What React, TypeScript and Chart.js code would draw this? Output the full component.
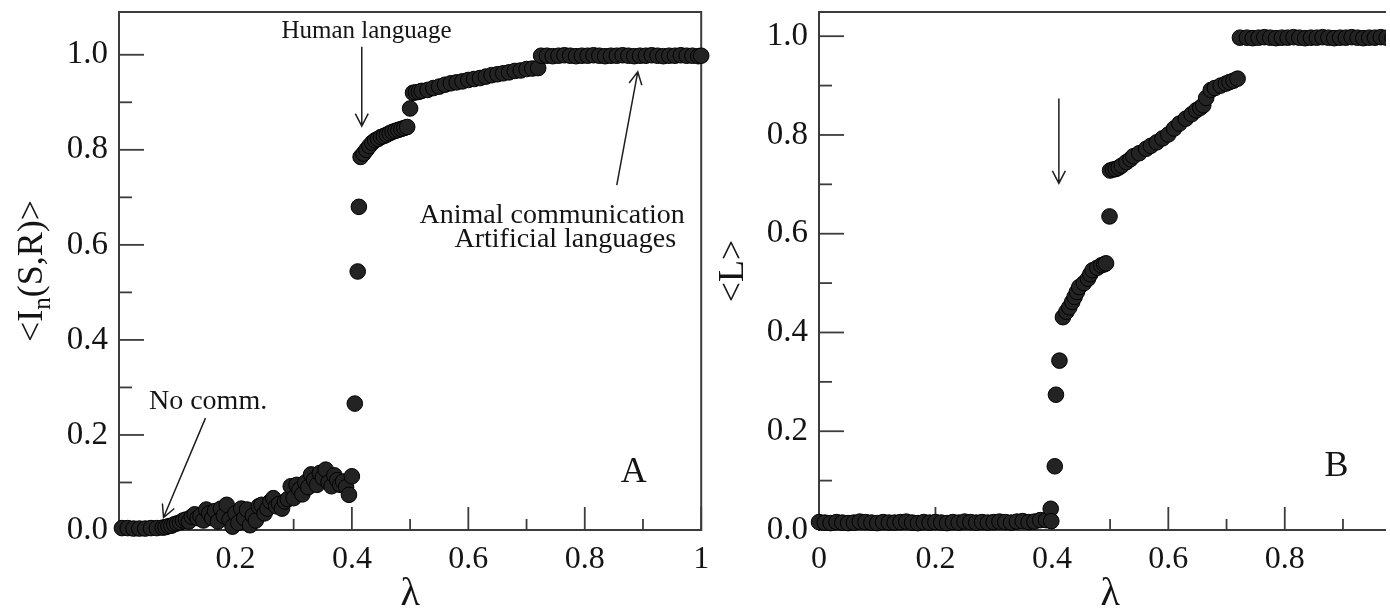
import React, { useEffect, useRef } from 'react';
import { Chart, registerables } from 'chart.js';

Chart.register(...registerables);

// ---------------- Panel A: <I_n(S,R)> versus lambda ----------------
const lambdaA = [
  0.005, 0.015, 0.025, 0.035, 0.045, 0.055, 0.065, 0.075,
  0.080, 0.085, 0.090, 0.095, 0.100, 0.105, 0.110, 0.115, 0.120, 0.125,
  0.130, 0.135, 0.140, 0.145, 0.150, 0.155, 0.160, 0.165, 0.170, 0.175,
  0.180, 0.185, 0.190, 0.195, 0.200, 0.205, 0.210, 0.215, 0.220, 0.225,
  0.230, 0.235, 0.240, 0.245, 0.250, 0.255, 0.260, 0.265, 0.270, 0.275,
  0.280, 0.285, 0.290, 0.295, 0.300, 0.305, 0.310, 0.315, 0.320, 0.325,
  0.330, 0.335, 0.340, 0.345, 0.350, 0.355, 0.360, 0.365, 0.370, 0.375,
  0.380, 0.385, 0.390, 0.395, 0.400,
  0.405, 0.410, 0.412,
  0.415, 0.420, 0.425, 0.430, 0.435, 0.440, 0.445, 0.450, 0.455, 0.460,
  0.465, 0.470, 0.475, 0.480, 0.485, 0.490, 0.495,
  0.500,
  0.505, 0.510, 0.515, 0.520, 0.530, 0.540, 0.550, 0.560, 0.570, 0.580,
  0.590, 0.600, 0.610, 0.620, 0.630, 0.640, 0.650, 0.660, 0.670, 0.680,
  0.690, 0.700, 0.710, 0.720,
  0.725, 0.735, 0.745, 0.755, 0.765, 0.775, 0.785, 0.795, 0.805, 0.815,
  0.825, 0.835, 0.845, 0.855, 0.865, 0.875, 0.885, 0.895, 0.905, 0.915,
  0.925, 0.935, 0.945, 0.955, 0.965, 0.975, 0.985, 0.995, 1.000,
];
const infoA = [
  0.004, 0.004, 0.003, 0.003, 0.003, 0.004, 0.004, 0.005,
  0.006, 0.008, 0.009, 0.012, 0.014, 0.016, 0.020, 0.022, 0.018, 0.028,
  0.033, 0.025, 0.030, 0.020, 0.043, 0.035, 0.025, 0.040, 0.018, 0.045,
  0.030, 0.053, 0.022, 0.007, 0.035, 0.015, 0.045, 0.025, 0.043, 0.010,
  0.030, 0.020, 0.050, 0.053, 0.035, 0.045, 0.060, 0.067, 0.050, 0.055,
  0.045, 0.060, 0.065, 0.092, 0.067, 0.095, 0.085, 0.075, 0.100, 0.090,
  0.117, 0.105, 0.095, 0.120, 0.110, 0.127, 0.100, 0.092, 0.115, 0.105,
  0.095, 0.102, 0.090, 0.074, 0.113,
  0.266, 0.544, 0.680,
  0.785, 0.792, 0.800, 0.808, 0.815, 0.820, 0.823, 0.827, 0.829, 0.832,
  0.835, 0.838, 0.840, 0.842, 0.844, 0.846, 0.848,
  0.887,
  0.920, 0.921, 0.922, 0.924, 0.926, 0.930, 0.933, 0.937, 0.940, 0.942,
  0.944, 0.947, 0.949, 0.951, 0.954, 0.957, 0.959, 0.961, 0.963, 0.966,
  0.967, 0.970, 0.971, 0.972,
  0.998, 0.998, 0.997, 0.998, 0.999, 0.998, 0.997, 0.998, 0.998, 0.999,
  0.998, 0.997, 0.998, 0.998, 0.999, 0.998, 0.997, 0.998, 0.998, 0.999,
  0.998, 0.997, 0.998, 0.998, 0.999, 0.998, 0.998, 0.997, 0.998,
];

// ---------------- Panel B: <L> versus lambda ----------------
const lambdaB = [
  0.00, 0.01, 0.02, 0.03, 0.04, 0.05, 0.06, 0.07, 0.08, 0.09,
  0.10, 0.11, 0.12, 0.13, 0.14, 0.15, 0.16, 0.17, 0.18, 0.19,
  0.20, 0.21, 0.22, 0.23, 0.24, 0.25, 0.26, 0.27, 0.28, 0.29,
  0.30, 0.31, 0.32, 0.33, 0.34, 0.35, 0.36, 0.37, 0.38, 0.39,
  0.398, 0.399, 0.405, 0.407, 0.413,
  0.419, 0.425, 0.430, 0.435, 0.439, 0.443, 0.447, 0.455, 0.462, 0.466,
  0.470, 0.478, 0.485, 0.490, 0.493,
  0.499,
  0.500, 0.505, 0.510, 0.515, 0.520, 0.528, 0.535, 0.540, 0.550, 0.562,
  0.570, 0.580, 0.590, 0.600, 0.610, 0.619, 0.630, 0.640, 0.648, 0.655,
  0.660, 0.665, 0.673, 0.680, 0.690, 0.699, 0.705, 0.712, 0.719,
  0.723, 0.735, 0.745, 0.755, 0.765, 0.775, 0.785, 0.795, 0.805, 0.815,
  0.825, 0.835, 0.845, 0.855, 0.865, 0.875, 0.885, 0.895, 0.905, 0.915,
  0.925, 0.935, 0.945, 0.955, 0.965, 0.975, 0.985, 0.995, 1.000,
];
const lengthB = [
  0.016, 0.015, 0.014, 0.016, 0.015, 0.014, 0.015, 0.017, 0.016, 0.015,
  0.014, 0.016, 0.015, 0.015, 0.016, 0.017, 0.015, 0.014, 0.016, 0.015,
  0.016, 0.015, 0.014, 0.016, 0.015, 0.017, 0.016, 0.015, 0.016, 0.015,
  0.016, 0.017, 0.016, 0.015, 0.017, 0.018, 0.016, 0.017, 0.020, 0.020,
  0.043, 0.018, 0.129, 0.274, 0.343,
  0.431, 0.442, 0.451, 0.462, 0.472, 0.482, 0.492, 0.500, 0.509, 0.518,
  0.526, 0.531, 0.536, 0.538, 0.540,
  0.635,
  0.728, 0.730, 0.731, 0.734, 0.738, 0.745, 0.751, 0.757, 0.763, 0.772,
  0.778, 0.785, 0.793, 0.801, 0.813, 0.823, 0.833, 0.842, 0.850, 0.855,
  0.860, 0.875, 0.891, 0.895, 0.900, 0.904, 0.907, 0.910, 0.914,
  0.997, 0.997, 0.996, 0.997, 0.998, 0.997, 0.996, 0.997, 0.997, 0.998,
  0.997, 0.996, 0.997, 0.997, 0.998, 0.997, 0.996, 0.997, 0.997, 0.998,
  0.997, 0.996, 0.997, 0.997, 0.998, 0.997, 0.997, 0.996, 0.997,
];

// ---------------- Ticks ----------------
const yMajor = [0, 0.2, 0.4, 0.6, 0.8, 1.0];
const yMajorLabels = ['0.0', '0.2', '0.4', '0.6', '0.8', '1.0'];
const yMinor = [0.1, 0.3, 0.5, 0.7, 0.9];
const xMajorA = [0.2, 0.4, 0.6, 0.8, 1.0];
const xMajorLabelsA = ['0.2', '0.4', '0.6', '0.8', '1'];
const xMajorB = [0, 0.2, 0.4, 0.6, 0.8, 1.0];
const xMajorLabelsB = ['0', '0.2', '0.4', '0.6', '0.8', '1'];
const xMinor = [0.1, 0.3, 0.5, 0.7, 0.9];

// ---------------- Annotations (data coordinates) ----------------
const notesA = [
  { text: 'Human language', x: 0.425, y: 1.035, size: 25 },
  { text: 'No comm.', x: 0.153, y: 0.2545, size: 28 },
  { text: 'Animal communication', x: 0.744, y: 0.647, size: 28 },
  { text: 'Artificial languages', x: 0.7665, y: 0.5945, size: 28 },
  { text: 'A', x: 0.884, y: 0.102, size: 36 },
];
const arrowsA = [
  { x0: 0.417, y0: 1.017, x1: 0.417, y1: 0.85 },
  { x0: 0.1485, y0: 0.2355, x1: 0.0765, y1: 0.0264 },
  { x0: 0.855, y0: 0.7255, x1: 0.891, y1: 0.964 },
];
const notesB = [{ text: 'B', x: 0.889, y: 0.11, size: 36 }];
const arrowsB = [{ x0: 0.412, y0: 0.874, x1: 0.412, y1: 0.702 }];

const FONT = '"Liberation Serif", "Times New Roman", serif';
const INK = '#141414';
const AXIS = '#3c3c3c';

const near = (a: number, b: number) => Math.abs(a - b) < 1e-9;

const frameTicks = {
  id: 'frameTicks',
  beforeDatasetsDraw(chart: any, _args: any, o: any) {
    const { ctx, chartArea: a, scales } = chart;
    const x = scales.x;
    const y = scales.y;
    ctx.save();
    ctx.strokeStyle = AXIS;
    ctx.lineWidth = 2;
    ctx.strokeRect(a.left, a.top, a.right - a.left, a.bottom - a.top);
    ctx.lineWidth = 1.8;
    const seg = (x0: number, y0: number, x1: number, y1: number) => {
      ctx.beginPath();
      ctx.moveTo(x0, y0);
      ctx.lineTo(x1, y1);
      ctx.stroke();
    };
    o.xMajor.forEach((v: number) => {
      const p = x.getPixelForValue(v);
      seg(p, a.bottom, p, a.bottom - o.xMajorLen);
    });
    o.xMinor.forEach((v: number) => {
      const p = x.getPixelForValue(v);
      seg(p, a.bottom, p, a.bottom - o.xMinorLen);
    });
    o.yMajor.forEach((v: number) => {
      const p = y.getPixelForValue(v);
      seg(a.left, p, a.left + o.yMajorLen, p);
    });
    o.yMinor.forEach((v: number) => {
      const p = y.getPixelForValue(v);
      seg(a.left, p, a.left + o.yMinorLen, p);
    });
    ctx.restore();
  },
};

const notesPlugin = {
  id: 'notes',
  afterDatasetsDraw(chart: any, _args: any, o: any) {
    const { ctx, scales } = chart;
    const x = scales.x;
    const y = scales.y;
    ctx.save();
    ctx.fillStyle = INK;
    ctx.textAlign = 'center';
    ctx.textBaseline = 'alphabetic';
    o.texts.forEach((t: any) => {
      ctx.font = `${t.size}px ${FONT}`;
      ctx.fillText(t.text, x.getPixelForValue(t.x), y.getPixelForValue(t.y));
    });
    ctx.strokeStyle = '#1e1e1e';
    ctx.lineWidth = 1.5;
    o.arrows.forEach((ar: any) => {
      const x0 = x.getPixelForValue(ar.x0);
      const y0 = y.getPixelForValue(ar.y0);
      const x1 = x.getPixelForValue(ar.x1);
      const y1 = y.getPixelForValue(ar.y1);
      const ang = Math.atan2(y1 - y0, x1 - x0);
      const head = 14;
      const spread = 0.48;
      ctx.beginPath();
      ctx.moveTo(x0, y0);
      ctx.lineTo(x1, y1);
      ctx.moveTo(x1 - head * Math.cos(ang - spread), y1 - head * Math.sin(ang - spread));
      ctx.lineTo(x1, y1);
      ctx.lineTo(x1 - head * Math.cos(ang + spread), y1 - head * Math.sin(ang + spread));
      ctx.stroke();
    });
    if (o.yTitle) {
      // rotated axis title with a subscript
      const a = chart.chartArea;
      const cy = (a.top + a.bottom) / 2;
      ctx.translate(o.yTitle.baseX, cy);
      ctx.rotate(-Math.PI / 2);
      ctx.textAlign = 'left';
      const big = `${o.yTitle.size}px ${FONT}`;
      const small = `${Math.round(o.yTitle.size * 0.7)}px ${FONT}`;
      const parts = [
        { s: o.yTitle.before, f: big, dy: 0 },
        { s: o.yTitle.sub, f: small, dy: o.yTitle.size * 0.22 },
        { s: o.yTitle.after, f: big, dy: 0 },
      ];
      let total = 0;
      parts.forEach((p) => {
        ctx.font = p.f;
        total += ctx.measureText(p.s).width;
      });
      let cx = -total / 2;
      parts.forEach((p) => {
        ctx.font = p.f;
        ctx.fillText(p.s, cx, p.dy);
        cx += ctx.measureText(p.s).width;
      });
    }
    ctx.restore();
  },
};

function makeConfig(p: any): any {
  const labelFor = (majors: number[], labels: string[]) => (v: any) => {
    const i = majors.findIndex((m) => near(m, Number(v)));
    return i >= 0 ? labels[i] : '';
  };
  return {
    type: 'scatter',
    data: {
      datasets: [
        {
          data: p.xs.map((xv: number, i: number) => ({ x: xv, y: p.ys[i] })),
          pointRadius: 7.8,
          pointBackgroundColor: '#232323',
          pointBorderColor: '#000000',
          pointBorderWidth: 1,
          showLine: false,
          clip: false,
        },
      ],
    },
    plugins: [frameTicks, notesPlugin],
    options: {
      animation: false,
      responsive: false,
      events: [],
      layout: { padding: { left: 0, top: 12, right: p.padRight, bottom: 0 } },
      plugins: {
        legend: { display: false },
        tooltip: { enabled: false },
        frameTicks: {
          xMajor: p.xMajor,
          xMinor: xMinor,
          yMajor: yMajor,
          yMinor: yMinor,
          xMajorLen: 23,
          xMinorLen: 11,
          yMajorLen: 25,
          yMinorLen: 13,
        },
        notes: { texts: p.notes, arrows: p.arrows, yTitle: p.yTitleParts },
      },
      scales: {
        x: {
          type: 'linear',
          min: p.xMin,
          max: p.xMax,
          grid: { display: false, drawTicks: false },
          border: { display: false },
          ticks: {
            font: { family: FONT, size: 32 },
            color: INK,
            padding: 10,
            maxRotation: 0,
            autoSkip: false,
            callback: labelFor(p.xMajor, p.xLabels),
          },
          afterBuildTicks: (s: any) => {
            s.ticks = [...p.xMajor, ...xMinor].sort((a, b) => a - b).map((v) => ({ value: v }));
          },
          afterFit: (s: any) => {
            s.height = 90;
            s.paddingLeft = 0;
            s.paddingRight = 0;
          },
          title: {
            display: true,
            text: 'λ',
            color: INK,
            font: { family: FONT, size: 40, lineHeight: 1 },
            padding: { top: 0, bottom: 6 },
          },
        },
        y: {
          type: 'linear',
          min: 0,
          max: p.yMax,
          grid: { display: false, drawTicks: false },
          border: { display: false },
          ticks: {
            font: { family: FONT, size: 33 },
            color: INK,
            padding: 11,
            autoSkip: false,
            callback: labelFor(yMajor, yMajorLabels),
          },
          afterBuildTicks: (s: any) => {
            s.ticks = [...yMajor, ...yMinor].sort((a, b) => a - b).map((v) => ({ value: v }));
          },
          afterFit: (s: any) => {
            s.width = p.yWidth;
            s.paddingTop = 0;
            s.paddingBottom = 0;
          },
          title: p.yTitleText
            ? {
                display: true,
                text: p.yTitleText,
                color: INK,
                font: { family: FONT, size: 36, lineHeight: 1 },
                padding: { top: 6, bottom: 0 },
              }
            : { display: false },
        },
      },
    },
  };
}

export default function App() {
  const refA = useRef<HTMLCanvasElement>(null);
  const refB = useRef<HTMLCanvasElement>(null);

  useEffect(() => {
    const chartA = new Chart(
      refA.current as HTMLCanvasElement,
      makeConfig({
        xs: lambdaA,
        ys: infoA,
        xMin: 0,
        xMax: 1,
        yMax: 1.09,
        xMajor: xMajorA,
        xLabels: xMajorLabelsA,
        yWidth: 119,
        padRight: 8,
        notes: notesA,
        arrows: arrowsA,
        yTitleText: null,
        yTitleParts: { before: '<I', sub: 'n', after: '(S,R)>', size: 36, baseX: 42 },
      })
    );
    const chartB = new Chart(
      refB.current as HTMLCanvasElement,
      makeConfig({
        xs: lambdaB,
        ys: lengthB,
        xMin: 0,
        xMax: 1,
        yMax: 1.049,
        xMajor: xMajorB,
        xLabels: xMajorLabelsB,
        yWidth: 109,
        padRight: 8,
        notes: notesB,
        arrows: arrowsB,
        yTitleText: '<L>',
        yTitleParts: null,
      })
    );
    return () => {
      chartA.destroy();
      chartB.destroy();
    };
  }, []);

  return (
    <div
      style={{
        position: 'fixed',
        left: 0,
        top: 0,
        width: 1390,
        height: 611,
        overflow: 'hidden',
        background: '#ffffff',
      }}
    >
      <canvas ref={refA} width={710} height={620} style={{ position: 'absolute', left: 0, top: 0 }} />
      <div style={{ position: 'absolute', left: 710, top: 0, width: 676, height: 620, overflow: 'hidden' }}>
        <canvas ref={refB} width={700} height={620} style={{ position: 'absolute', left: 0, top: 0 }} />
      </div>
    </div>
  );
}
